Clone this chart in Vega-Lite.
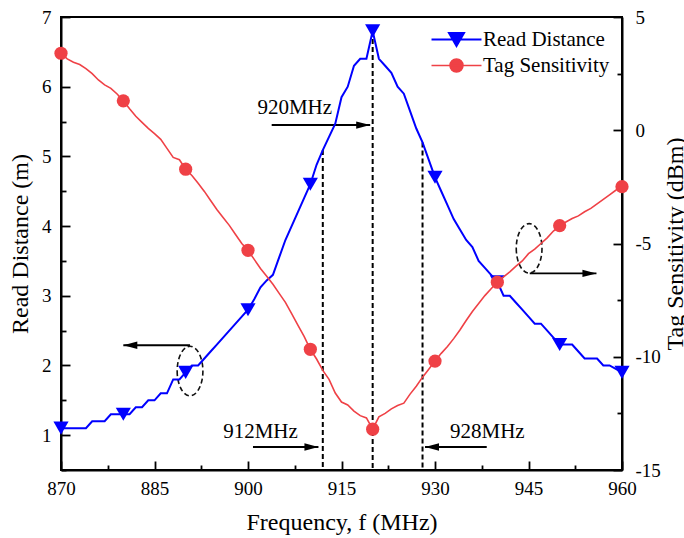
{
  "$schema": "https://vega.github.io/schema/vega-lite/v6.json",
  "autosize": {"type": "none"},
  "width": 561,
  "height": 453,
  "padding": {"left": 61, "top": 17, "right": 62, "bottom": 68},
  "datasets": {
    "sweep": [
      {"f": 870, "dist": 1.1, "sens": 3.4},
      {"f": 871, "dist": 1.1, "sens": 3.15},
      {"f": 872, "dist": 1.1, "sens": 3.0},
      {"f": 873, "dist": 1.1, "sens": 2.9},
      {"f": 874, "dist": 1.1, "sens": 2.72},
      {"f": 875, "dist": 1.2, "sens": 2.5},
      {"f": 876, "dist": 1.2, "sens": 2.22},
      {"f": 877, "dist": 1.2, "sens": 2.0},
      {"f": 878, "dist": 1.3, "sens": 1.85},
      {"f": 879, "dist": 1.3, "sens": 1.6},
      {"f": 880, "dist": 1.3, "sens": 1.3},
      {"f": 881, "dist": 1.3, "sens": 0.95},
      {"f": 882, "dist": 1.4, "sens": 0.62},
      {"f": 883, "dist": 1.4, "sens": 0.35},
      {"f": 884, "dist": 1.5, "sens": 0.08},
      {"f": 885, "dist": 1.5, "sens": -0.15},
      {"f": 886, "dist": 1.6, "sens": -0.4},
      {"f": 887, "dist": 1.6, "sens": -0.8},
      {"f": 888, "dist": 1.8, "sens": -1.2},
      {"f": 889, "dist": 1.8, "sens": -1.3},
      {"f": 890, "dist": 1.9, "sens": -1.72},
      {"f": 891, "dist": 2.0, "sens": -2.0},
      {"f": 892, "dist": 2.0, "sens": -2.34},
      {"f": 893, "dist": 2.1, "sens": -2.7},
      {"f": 894, "dist": 2.2, "sens": -3.1},
      {"f": 895, "dist": 2.3, "sens": -3.5},
      {"f": 896, "dist": 2.4, "sens": -3.85},
      {"f": 897, "dist": 2.5, "sens": -4.2},
      {"f": 898, "dist": 2.6, "sens": -4.6},
      {"f": 899, "dist": 2.7, "sens": -5.0},
      {"f": 900, "dist": 2.8, "sens": -5.3},
      {"f": 901, "dist": 2.95, "sens": -5.7},
      {"f": 902, "dist": 3.12, "sens": -6.1},
      {"f": 903, "dist": 3.22, "sens": -6.45},
      {"f": 904, "dist": 3.3, "sens": -6.8},
      {"f": 905, "dist": 3.55, "sens": -7.2},
      {"f": 906, "dist": 3.8, "sens": -7.6},
      {"f": 907, "dist": 4.0, "sens": -8.1},
      {"f": 908, "dist": 4.2, "sens": -8.6},
      {"f": 909, "dist": 4.4, "sens": -9.1},
      {"f": 910, "dist": 4.6, "sens": -9.67},
      {"f": 911, "dist": 4.88, "sens": -10.1},
      {"f": 912, "dist": 5.09, "sens": -10.6},
      {"f": 913, "dist": 5.28, "sens": -11.0},
      {"f": 914, "dist": 5.47, "sens": -11.6},
      {"f": 915, "dist": 5.85, "sens": -12.0},
      {"f": 916, "dist": 6.0, "sens": -12.13},
      {"f": 917, "dist": 6.3, "sens": -12.4},
      {"f": 918, "dist": 6.4, "sens": -12.6},
      {"f": 919, "dist": 6.4, "sens": -12.7},
      {"f": 920, "dist": 6.8, "sens": -13.2},
      {"f": 921, "dist": 6.4, "sens": -12.65},
      {"f": 922, "dist": 6.3, "sens": -12.5},
      {"f": 923, "dist": 6.2, "sens": -12.3},
      {"f": 924, "dist": 6.0, "sens": -12.15},
      {"f": 925, "dist": 5.9, "sens": -12.05},
      {"f": 926, "dist": 5.65, "sens": -11.65},
      {"f": 927, "dist": 5.4, "sens": -11.3},
      {"f": 928, "dist": 5.2, "sens": -10.9},
      {"f": 929, "dist": 4.95, "sens": -10.55},
      {"f": 930, "dist": 4.7, "sens": -10.19},
      {"f": 931, "dist": 4.5, "sens": -9.85},
      {"f": 932, "dist": 4.3, "sens": -9.55},
      {"f": 933, "dist": 4.1, "sens": -9.2},
      {"f": 934, "dist": 3.95, "sens": -8.82},
      {"f": 935, "dist": 3.8, "sens": -8.4},
      {"f": 936, "dist": 3.7, "sens": -8.0},
      {"f": 937, "dist": 3.5, "sens": -7.65},
      {"f": 938, "dist": 3.4, "sens": -7.3},
      {"f": 939, "dist": 3.3, "sens": -7.0},
      {"f": 940, "dist": 3.2, "sens": -6.71},
      {"f": 941, "dist": 3.0, "sens": -6.47},
      {"f": 942, "dist": 3.0, "sens": -6.25},
      {"f": 943, "dist": 2.9, "sens": -6.0},
      {"f": 944, "dist": 2.8, "sens": -5.77},
      {"f": 945, "dist": 2.7, "sens": -5.45},
      {"f": 946, "dist": 2.6, "sens": -5.25},
      {"f": 947, "dist": 2.6, "sens": -5.0},
      {"f": 948, "dist": 2.5, "sens": -4.75},
      {"f": 949, "dist": 2.4, "sens": -4.45},
      {"f": 950, "dist": 2.3, "sens": -4.21},
      {"f": 951, "dist": 2.3, "sens": -4.05},
      {"f": 952, "dist": 2.3, "sens": -3.9},
      {"f": 953, "dist": 2.2, "sens": -3.78},
      {"f": 954, "dist": 2.1, "sens": -3.6},
      {"f": 955, "dist": 2.1, "sens": -3.45},
      {"f": 956, "dist": 2.1, "sens": -3.25},
      {"f": 957, "dist": 2.0, "sens": -3.05},
      {"f": 958, "dist": 2.0, "sens": -2.85},
      {"f": 959, "dist": 1.95, "sens": -2.65},
      {"f": 960, "dist": 1.9, "sens": -2.49}
    ],
    "markers": [
      {"f": 912, "top": 5.09},
      {"f": 920, "top": 6.8},
      {"f": 928, "top": 5.2}
    ],
    "arrows": [
      {"from": 903.8, "to": 919.6, "at": 5.45, "dir": "right"},
      {"from": 900.8, "to": 911.3, "at": 0.83, "dir": "right"},
      {"from": 938.3, "to": 928.4, "at": 0.83, "dir": "left"},
      {"from": 890.7, "to": 880.0, "at": 2.29, "dir": "left"},
      {"from": 945.2, "to": 955.9, "at": 3.32, "dir": "right"}
    ],
    "notes": [
      {"f": 907.5, "at": 5.69, "text": "920MHz"},
      {"f": 902.0, "at": 1.04, "text": "912MHz"},
      {"f": 938.4, "at": 1.04, "text": "928MHz"}
    ],
    "rings": [
      {"f": 890.7, "at": 1.92},
      {"f": 945.1, "at": 3.68}
    ]
  },
  "encoding": {
    "x": {
      "field": "f",
      "type": "quantitative",
      "scale": {"domain": [870, 960], "nice": false, "zero": false},
      "axis": {
        "title": "Frequency, f (MHz)",
        "values": [870, 877.5, 885, 892.5, 900, 907.5, 915, 922.5, 930, 937.5, 945, 952.5, 960],
        "labelExpr": "datum.value % 15 === 0 ? '' + datum.value : ''",
        "tickSize": {"condition": {"test": "datum.value % 15 === 0", "value": -9}, "value": -5},
        "labelPadding": 18,
        "titlePadding": 8
      }
    }
  },
  "layer": [
    {
      "layer": [
        {
          "data": {"name": "markers"},
          "mark": {"type": "rule", "color": "black", "strokeWidth": 2, "strokeDash": [5, 3]},
          "encoding": {
            "y": {"field": "top", "type": "quantitative"},
            "y2": {"datum": 0.5}
          }
        },
        {
          "data": {"name": "arrows"},
          "mark": {"type": "rule", "color": "black", "strokeWidth": 1.8},
          "encoding": {
            "x": {"field": "from", "type": "quantitative"},
            "x2": {"field": "to"},
            "y": {"field": "at", "type": "quantitative"}
          }
        },
        {
          "data": {"name": "arrows"},
          "mark": {"type": "point", "filled": true, "color": "black", "opacity": 1, "size": 784},
          "encoding": {
            "x": {"field": "to", "type": "quantitative"},
            "y": {"field": "at", "type": "quantitative"},
            "shape": {
              "field": "dir",
              "type": "nominal",
              "scale": {"domain": ["right", "left"], "range": ["M0,0L-1,-0.26L-1,0.26Z", "M0,0L1,-0.26L1,0.26Z"]},
              "legend": null
            }
          }
        },
        {
          "data": {"name": "rings"},
          "mark": {
            "type": "point",
            "filled": false,
            "color": "#111111",
            "opacity": 1,
            "strokeWidth": 1.6,
            "strokeDash": [5, 3],
            "size": 2450,
            "shape": "M-0.52,0A0.52,1 0 1,0 0.52,0A0.52,1 0 1,0 -0.52,0Z"
          },
          "encoding": {
            "x": {"field": "f", "type": "quantitative"},
            "y": {"field": "at", "type": "quantitative"}
          }
        },
        {
          "data": {"name": "notes"},
          "mark": {"type": "text", "font": "Liberation Serif", "fontSize": 21, "color": "black", "align": "center", "baseline": "middle"},
          "encoding": {
            "x": {"field": "f", "type": "quantitative"},
            "y": {"field": "at", "type": "quantitative"},
            "text": {"field": "text"}
          }
        },
        {
          "data": {"name": "sweep"},
          "mark": {"type": "line", "strokeWidth": 2},
          "encoding": {
            "y": {"field": "dist", "type": "quantitative"},
            "color": {
              "datum": "Read Distance",
              "type": "nominal",
              "scale": {"domain": ["Read Distance", "Tag Sensitivity"], "range": ["#0000ff", "#ef4146"]},
              "legend": {
                "title": null,
                "orient": "top-right",
                "offset": 12,
                "padding": 0,
                "symbolSize": 196,
                "symbolOffset": 17,
                "rowPadding": 3,
                "labelOffset": 16,
                "labelFont": "Liberation Serif",
                "labelFontSize": 21,
                "labelColor": "black",
                "labelLimit": 300,
                "encode": {
                  "symbols": {
                    "update": {
                      "shape": {"signal": "datum.value === 'Read Distance' ? 'M-3.57,0L3.57,0M-1.07,-0.93L1.07,-0.93L0,0.93Z' : 'M-3.57,0L3.57,0M-0.93,0A0.93,0.93 0 1,0 0.93,0A0.93,0.93 0 1,0 -0.93,0Z'"},
                      "fill": {"signal": "datum.value === 'Read Distance' ? '#0000ff' : '#ef4146'"},
                      "stroke": {"signal": "datum.value === 'Read Distance' ? '#0000ff' : '#ef4146'"},
                      "strokeWidth": {"signal": "datum.value === 'Read Distance' ? 2 : 1.5"},
                      "opacity": {"value": 1}
                    }
                  }
                }
              }
            }
          }
        },
        {
          "data": {"name": "sweep"},
          "transform": [{"filter": "datum.f % 10 === 0"}],
          "mark": {"type": "point", "shape": "triangle-down", "filled": true, "color": "#0000ff", "opacity": 1, "size": 230},
          "encoding": {
            "y": {"field": "dist", "type": "quantitative"}
          }
        }
      ],
      "encoding": {
        "y": {
          "type": "quantitative",
          "scale": {"domain": [0.5, 7], "nice": false, "zero": false},
          "axis": {
            "title": "Read Distance (m)",
            "orient": "left",
            "values": [0.5, 1, 1.5, 2, 2.5, 3, 3.5, 4, 4.5, 5, 5.5, 6, 6.5, 7],
            "labelExpr": "datum.value >= 1 && datum.value % 1 === 0 ? '' + datum.value : ''",
            "tickSize": {"condition": {"test": "datum.value % 1 === 0", "value": -9}, "value": -5},
            "labelPadding": 19,
            "titlePadding": 9
          }
        }
      }
    },
    {
      "data": {"name": "sweep"},
      "layer": [
        {
          "mark": {"type": "line", "strokeWidth": 1.6},
          "encoding": {
            "color": {"datum": "Tag Sensitivity", "type": "nominal"}
          }
        },
        {
          "transform": [{"filter": "datum.f % 10 === 0"}],
          "mark": {"type": "point", "shape": "circle", "filled": true, "color": "#ef4146", "opacity": 1, "size": 175}
        }
      ],
      "encoding": {
        "y": {
          "field": "sens",
          "type": "quantitative",
          "scale": {"domain": [-15, 5], "nice": false, "zero": false},
          "axis": {
            "title": "Tag Sensitivity (dBm)",
            "orient": "right",
            "titleAngle": -90,
            "titleBaseline": "top",
            "values": [-15, -12.5, -10, -7.5, -5, -2.5, 0, 2.5, 5],
            "labelExpr": "datum.value % 5 === 0 ? (datum.value < 0 ? '-' + abs(datum.value) : '' + datum.value) : ''",
            "tickSize": {"condition": {"test": "datum.value % 5 === 0", "value": -9}, "value": -5},
            "labelPadding": 22,
            "titlePadding": 3
          }
        }
      }
    }
  ],
  "resolve": {"scale": {"y": "independent"}},
  "config": {
    "font": "Liberation Serif",
    "view": {"stroke": "black", "strokeWidth": 2},
    "axis": {
      "grid": false,
      "domainColor": "black",
      "domainWidth": 2,
      "tickColor": "black",
      "tickWidth": 1.8,
      "labelFont": "Liberation Serif",
      "labelFontSize": 19,
      "labelColor": "black",
      "labelFlush": false,
      "labelOverlap": false,
      "titleFont": "Liberation Serif",
      "titleFontSize": 24,
      "titleFontWeight": "normal",
      "titleColor": "black"
    }
  }
}
